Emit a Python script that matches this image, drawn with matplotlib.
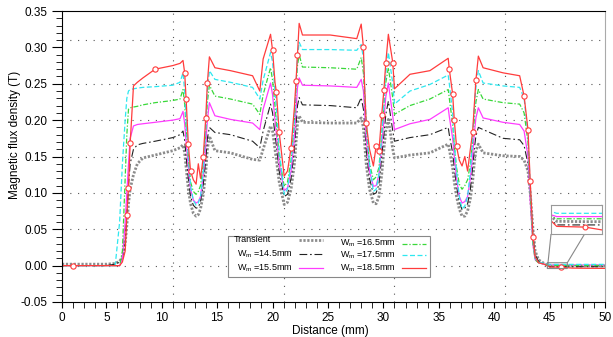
import matplotlib
matplotlib.use('Agg')
import matplotlib.pyplot as plt
from matplotlib.patches import Rectangle
from matplotlib.ticker import MultipleLocator, FixedLocator, FixedFormatter

plt.rcParams['font.family'] = ['Liberation Sans', 'DejaVu Sans']
plt.rcParams['mathtext.default'] = 'regular'
plt.rcParams['axes.unicode_minus'] = False

# distance along the air gap (mm), shared by all curves
distance = [1.0, 2.0, 3.0, 4.0, 5.0, 5.8, 6.2, 6.45, 6.7, 6.85,
            7.0, 7.15, 7.45, 7.8, 8.3, 9.4, 11.0, 11.65, 11.92, 12.07,
            12.2, 12.4, 12.6, 12.85, 13.1, 13.3, 13.5, 13.75, 13.97, 14.12,
            14.3, 14.8, 16.2, 18.2, 18.85, 19.15, 19.82, 20.0, 20.22, 20.35,
            20.6, 21.05, 21.35, 21.67, 21.97, 22.12, 22.25, 22.4, 22.7, 25.2,
            27.6, 28.0, 28.2, 28.3, 28.45, 28.75, 29.1, 29.35, 29.6, 29.85,
            30.05, 30.22, 30.45, 30.85, 31.0, 32.4, 34.2, 35.85, 35.95, 36.25,
            36.4, 36.6, 36.85, 37.1, 37.35, 37.6, 37.85, 38.05, 38.2, 38.35,
            38.57, 39.0, 40.8, 42.3, 42.7, 43.05, 43.25, 43.5, 43.7, 44.0,
            44.5, 45.0, 46.0, 47.0, 48.0, 49.0, 50.0]

b_transient = [0.002, 0.002, 0.002, 0.002, 0.002, 0.003, 0.006, 0.012, 0.030, 0.055,
               0.085, 0.105, 0.125, 0.140, 0.148, 0.152, 0.158, 0.162, 0.166, 0.155,
               0.135, 0.105, 0.085, 0.072, 0.068, 0.070, 0.078, 0.098, 0.128, 0.160,
               0.178, 0.158, 0.155, 0.146, 0.145, 0.160, 0.192, 0.185, 0.160, 0.145,
               0.115, 0.084, 0.087, 0.105, 0.140, 0.170, 0.195, 0.206, 0.197, 0.196,
               0.196, 0.203, 0.190, 0.170, 0.140, 0.105, 0.086, 0.085, 0.095, 0.125,
               0.160, 0.185, 0.201, 0.160, 0.148, 0.152, 0.155, 0.167, 0.160, 0.135,
               0.115, 0.095, 0.078, 0.068, 0.068, 0.075, 0.092, 0.115, 0.140, 0.158,
               0.167, 0.155, 0.151, 0.150, 0.145, 0.130, 0.100, 0.050, 0.020, 0.008,
               0.003, -0.0005, -0.0006, -0.0006, -0.0006, -0.0006, -0.0006]

b_145 = [0, 0, 0, 0, 0, 0.002, 0.005, 0.010, 0.030, 0.070,
         0.110, 0.140, 0.160, 0.166, 0.168, 0.171, 0.176, 0.180, 0.185, 0.172,
         0.150, 0.120, 0.095, 0.083, 0.079, 0.080, 0.088, 0.112, 0.145, 0.175,
         0.190, 0.183, 0.180, 0.171, 0.162, 0.185, 0.222, 0.210, 0.180, 0.165,
         0.130, 0.095, 0.098, 0.120, 0.160, 0.195, 0.220, 0.231, 0.221, 0.220,
         0.217, 0.231, 0.215, 0.195, 0.160, 0.120, 0.098, 0.100, 0.112, 0.150,
         0.180, 0.208, 0.226, 0.185, 0.171, 0.176, 0.180, 0.190, 0.180, 0.155,
         0.135, 0.110, 0.088, 0.077, 0.079, 0.085, 0.105, 0.135, 0.160, 0.178,
         0.190, 0.187, 0.175, 0.173, 0.165, 0.140, 0.100, 0.040, 0.015, 0.006,
         0.002, -0.0015, -0.0015, -0.0015, -0.0015, -0.0015, -0.0015]

b_155 = [0, 0, 0, 0, 0, 0, 0, 0.010, 0.060, 0.100,
         0.140, 0.175, 0.192, 0.194, 0.195, 0.197, 0.200, 0.202, 0.212, 0.195,
         0.170, 0.135, 0.105, 0.090, 0.086, 0.088, 0.095, 0.125, 0.165, 0.200,
         0.224, 0.206, 0.201, 0.196, 0.187, 0.215, 0.251, 0.235, 0.200, 0.180,
         0.140, 0.103, 0.107, 0.130, 0.175, 0.215, 0.245, 0.258, 0.248, 0.247,
         0.245, 0.256, 0.240, 0.215, 0.175, 0.130, 0.109, 0.110, 0.125, 0.165,
         0.200, 0.232, 0.251, 0.205, 0.187, 0.195, 0.201, 0.217, 0.205, 0.175,
         0.150, 0.120, 0.095, 0.086, 0.088, 0.095, 0.120, 0.150, 0.180, 0.203,
         0.217, 0.203, 0.197, 0.194, 0.185, 0.150, 0.090, 0.028, 0.008, 0.004,
         0.002, 0.0008, 0.0008, 0.0008, 0.0008, 0.0008, 0.0008]

b_165 = [0, 0, 0, 0, 0, 0, 0, 0.020, 0.120, 0.180,
         0.215, 0.217, 0.218, 0.219, 0.221, 0.224, 0.227, 0.229, 0.242, 0.222,
         0.190, 0.150, 0.115, 0.102, 0.098, 0.102, 0.110, 0.140, 0.185, 0.225,
         0.248, 0.233, 0.229, 0.222, 0.208, 0.235, 0.272, 0.255, 0.220, 0.195,
         0.150, 0.109, 0.115, 0.145, 0.195, 0.245, 0.275, 0.290, 0.273, 0.272,
         0.270, 0.286, 0.265, 0.235, 0.190, 0.140, 0.118, 0.122, 0.135, 0.180,
         0.220, 0.252, 0.272, 0.230, 0.208, 0.220, 0.229, 0.242, 0.230, 0.195,
         0.165, 0.135, 0.112, 0.105, 0.110, 0.118, 0.140, 0.170, 0.200, 0.225,
         0.242, 0.229, 0.224, 0.222, 0.210, 0.170, 0.100, 0.030, 0.008, 0.004,
         0.002, 0.0002, 0.0002, 0.0002, 0.0002, 0.0002, 0.0002]

b_175 = [0, 0, 0, 0, 0, 0, 0.060, 0.140, 0.200, 0.230,
         0.240, 0.242, 0.243, 0.244, 0.245, 0.246, 0.248, 0.252, 0.265, 0.240,
         0.200, 0.150, 0.110, 0.090, 0.083, 0.086, 0.095, 0.130, 0.190, 0.240,
         0.268, 0.256, 0.252, 0.245, 0.229, 0.255, 0.293, 0.280, 0.240, 0.215,
         0.160, 0.098, 0.105, 0.140, 0.200, 0.250, 0.285, 0.307, 0.297, 0.297,
         0.296, 0.304, 0.285, 0.250, 0.200, 0.140, 0.102, 0.105, 0.125, 0.180,
         0.225, 0.265, 0.293, 0.250, 0.222, 0.240, 0.249, 0.262, 0.250, 0.210,
         0.170, 0.130, 0.095, 0.078, 0.082, 0.095, 0.130, 0.175, 0.215, 0.245,
         0.268, 0.251, 0.247, 0.245, 0.230, 0.180, 0.110, 0.035, 0.010, 0.005,
         0.003, 0.0017, 0.0017, 0.0017, 0.0017, 0.0017, 0.0017]

b_185 = [0, 0, 0, 0, 0, 0, 0, 0.005, 0.020, 0.070,
         0.107, 0.168, 0.247, 0.252, 0.258, 0.270, 0.275, 0.278, 0.282, 0.265,
         0.229, 0.167, 0.130, 0.118, 0.112, 0.140, 0.120, 0.150, 0.203, 0.251,
         0.287, 0.272, 0.268, 0.261, 0.240, 0.284, 0.318, 0.296, 0.252, 0.238,
         0.183, 0.123, 0.130, 0.162, 0.217, 0.254, 0.290, 0.333, 0.317, 0.317,
         0.312, 0.332, 0.300, 0.249, 0.196, 0.160, 0.137, 0.165, 0.157, 0.207,
         0.242, 0.279, 0.318, 0.279, 0.243, 0.263, 0.268, 0.285, 0.270, 0.236,
         0.200, 0.164, 0.145, 0.137, 0.150, 0.130, 0.160, 0.183, 0.219, 0.255,
         0.288, 0.272, 0.265, 0.261, 0.233, 0.187, 0.116, 0.040, 0.012, 0.004,
         0.002, -0.0019, -0.0021, -0.0034, -0.0036, -0.0037, -0.0038]

red_marks = [1, 9, 10, 11, 15, 19, 20, 21, 22, 27, 28, 29, 37, 39, 40, 43, 45, 46,
             52, 54, 57, 58, 59, 60, 61, 63, 68, 69, 70, 71, 77, 79, 84, 85, 86, 87, 92]

x_ticks = [1, 5, 10, 15, 20, 25, 30, 35, 40, 45, 50]
x_tick_labels = ['0', '5', '10', '15', '20', '25', '30', '35', '40', '45', '50']

series = [
    ('Transient', b_transient, dict(color='#8c8c8c', lw=2.0, ls=(0, (0.8, 0.6)))),
    ('W$_m$ =14.5mm', b_145, dict(color='#222222', lw=0.8, ls=(0, (7, 2.5, 1.5, 2.5)))),
    ('W$_m$ =15.5mm', b_155, dict(color='#ff3cff', lw=0.9, ls='-')),
    ('W$_m$ =16.5mm', b_165, dict(color='#3ad83a', lw=0.9, ls=(0, (4, 1.5, 1, 1.5)))),
    ('W$_m$ =17.5mm', b_175, dict(color='#2ee8f0', lw=0.9, ls=(0, (4, 2)))),
    ('W$_m$ =18.5mm', b_185, dict(color='#ff3c3c', lw=0.9, ls='-')),
]

fig = plt.figure(figsize=(6.13, 3.37), dpi=100)
ax = fig.add_axes([62 / 613, 1 - 302 / 337, 543 / 613, 291 / 337])

# dotted reference lines
for yv in [0.0, 0.05, 0.10, 0.15, 0.20, 0.25, 0.31]:
    ax.axhline(yv, color='#555555', lw=0.8, ls=(0, (1, 6)), zorder=0)
for xv in [11, 21, 31, 41]:
    ax.axvline(xv, color='#555555', lw=0.8, ls=(0, (1, 6)), zorder=0)

for label, vals, style in series:
    ax.plot(distance, vals, **style)
ax.plot(distance, b_185, ls='none', marker='o', ms=3.8, mfc='white', mec='#ff3c3c',
        mew=0.8, markevery=red_marks)

ax.set_xlim(1, 50)
ax.set_ylim(-0.05, 0.35)
ax.xaxis.set_major_locator(FixedLocator(x_ticks))
ax.xaxis.set_major_formatter(FixedFormatter(x_tick_labels))
ax.xaxis.set_minor_locator(MultipleLocator(1))
ax.yaxis.set_major_locator(MultipleLocator(0.05))
ax.yaxis.set_minor_locator(MultipleLocator(0.01))
ax.yaxis.set_major_formatter(plt.FormatStrFormatter('%.2f'))
ax.tick_params(which='both', direction='out', labelsize=8.5, top=False, right=False)
ax.tick_params(axis='y', which='major', length=7)
ax.tick_params(axis='y', which='minor', length=4)
ax.tick_params(axis='x', which='both', length=4)
ax.spines['right'].set_color('#aaaaaa')
ax.set_xlabel('Distance (mm)', fontsize=8.5)
ax.set_ylabel('Magnetic flux density (T)', fontsize=8.5)
ax.xaxis.set_label_coords(0.494, -0.079)
ax.yaxis.set_label_coords(-0.0755, 0.576)

# legend laid out by hand: label first, line sample after it
ax.add_patch(Rectangle((0.3057, 0.0859), 0.372, 0.141, transform=ax.transAxes,
                       facecolor='white', edgecolor='#888888', lw=0.8, zorder=5))
legend_pos = [(0.3168, 0.2131, 0.4365), (0.3223, 0.1649, 0.4365), (0.3223, 0.1168, 0.4365),
              (0.512, 0.2010, 0.6262), (0.512, 0.1598, 0.6262), (0.512, 0.1168, 0.6262)]
for (label, vals, style), (tx, ty, lx) in zip(series, legend_pos):
    ax.text(tx, ty, label, transform=ax.transAxes, fontsize=6.5, va='center', ha='left', zorder=6)
    ax.plot([lx, lx + 0.045], [ty, ty], transform=ax.transAxes, clip_on=False, zorder=6, **style)

# zoomed view of the tail
axins = ax.inset_axes([0.9006, 0.2337, 0.094, 0.0997])
for label, vals, style in series:
    axins.plot(distance, vals, **style)
axins.plot(distance, b_185, ls='none', marker='o', ms=3.5, mfc='white', mec='#ff3c3c',
           mew=0.8, markevery=red_marks)
axins.set_xlim(44.8, 46.6)
axins.set_ylim(-0.004, 0.004)
axins.set_xticks([])
axins.set_yticks([])
for sp in axins.spines.values():
    sp.set_color('#999999')
ax.indicate_inset_zoom(axins, edgecolor='#888888', alpha=1, lw=0.8)

fig.savefig('out.png', dpi=100)
